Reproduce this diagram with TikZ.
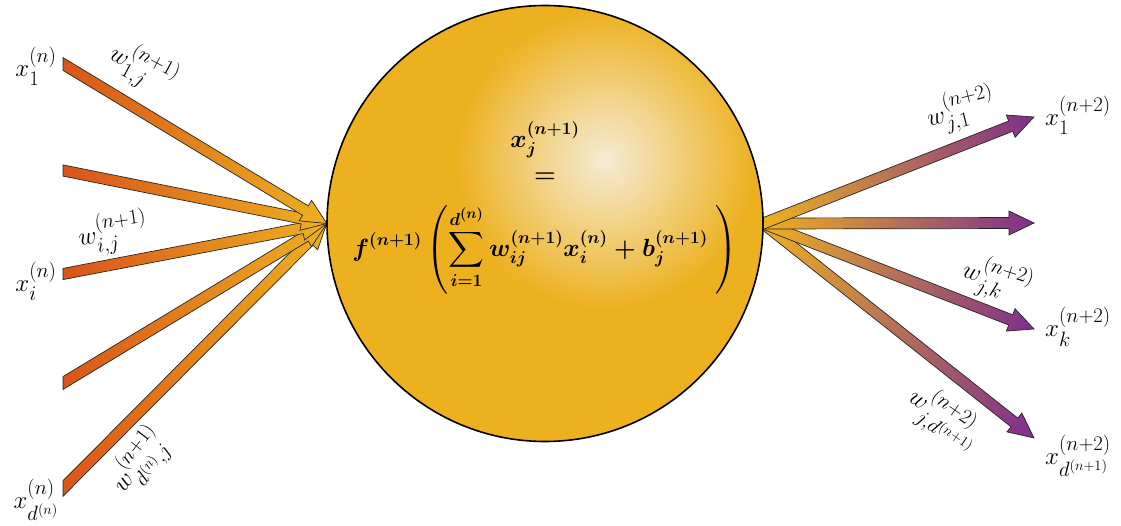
\documentclass[tikz,border=0pt]{standalone}
\usepackage{amsmath}
\usetikzlibrary{calc,backgrounds}
\DeclareMathSizes{26}{26}{20}{15}
\DeclareMathSizes{25}{25}{19}{14}
\definecolor{mred}{RGB}{217,83,25}
\definecolor{mgold}{RGB}{237,177,32}
\definecolor{mpurp}{RGB}{126,47,142}
\definecolor{mglow}{RGB}{245,236,214}
\newcommand\shw{5.5}
\newcommand\hw{12}
\newcommand\hl{25}
\newcommand\blockarrow[4]{%
  \path let \p1=(#1), \p2=(#2), \n1={atan2(\y2-\y1,\x2-\x1)}, \n2={veclen(\x2-\x1,\y2-\y1)} in \pgfextra{\xdef\arrang{\n1}\xdef\arrlen{\n2}};
  \pgfmathsetmacro\arrL{\arrlen}%
  \pgfmathsetmacro\arrT{\shw*tan(\arrang)}%
  \pgfmathsetmacro\arrTn{-\arrT}%
  \pgfmathsetmacro\arrB{\arrL-\hl}%
  \begin{scope}[transform canvas={shift={(#1)},rotate=\arrang}]
    \shade[blockarr, left color=#3, right color=#4]
      (\arrT pt,\shw pt) -- (\arrB pt,\shw pt) -- (\arrB pt,\hw pt) -- (\arrL pt,0pt)
      -- (\arrB pt,-\hw pt) -- (\arrB pt,-\shw pt) -- (\arrTn pt,-\shw pt) -- cycle;
  \end{scope}}
\tikzset{
  blockarr/.style={draw=black!85, line width=0.7pt, line join=miter},
  lbl/.style={font=\fontsize{26}{30}\selectfont, inner sep=0pt},
  formula/.style={font=\fontsize{25}{29}\selectfont\boldmath, inner sep=0pt},
  neuronstyle/.style={circle, fill=mgold, minimum size=436pt, inner sep=0pt},
  rimstyle/.style={circle, draw=black, line width=1.6pt, minimum size=436pt, inner sep=0pt}
}
\begin{document}
\begin{tikzpicture}[x=1pt,y=-1pt]
\useasboundingbox (0,0) rectangle (1121,526);
\node[neuronstyle] (neuron) at (545,223.5) {};
\begin{scope}
  \clip (neuron.center) circle (218pt);
  \shade[inner color=mglow, outer color=mgold] (605,160) circle (150pt);
\end{scope}
\node[rimstyle] (neuronrim) at (neuron.center) {};
% tails and tips
\coordinate (s1) at (63,64);
\coordinate (s2) at (63,170.5);
\coordinate (s3) at (63,274);
\coordinate (s4) at (63,383);
\coordinate (s5) at (63,488.5);
\coordinate (t1) at (1034,117);
\coordinate (t2) at (1034,223);
\coordinate (t3) at (1034,329);
\coordinate (t4) at (1034,438);
\begin{scope}[on background layer]
\blockarrow{s5}{neuron.west}{mred}{mgold}
\blockarrow{s4}{neuron.west}{mred}{mgold}
\blockarrow{s3}{neuron.west}{mred}{mgold}
\blockarrow{s2}{neuron.west}{mred}{mgold}
\blockarrow{s1}{neuron.west}{mred}{mgold}
\blockarrow{neuron.east}{t4}{mgold}{mpurp}
\blockarrow{neuron.east}{t3}{mgold}{mpurp}
\blockarrow{neuron.east}{t2}{mgold}{mpurp}
\blockarrow{neuron.east}{t1}{mgold}{mpurp}
\end{scope}
% formula
\node[formula] (fx) at (545,140) {$x_j^{(n+1)}$};
\node[formula] (feq) at (545,178) {$=$};
\node[formula] (ff) at (545,250) {$\displaystyle f^{(n+1)}\left(\sum_{i=1}^{d^{(n)}} w_{ij}^{(n+1)}x_i^{(n)} + b_j^{(n+1)}\;\right)$};
% input labels
\node[lbl] (lx1) at (36,66) {$x_1^{(n)}$};
\node[lbl] (lx2) at (36,281) {$x_i^{(n)}$};
\node[lbl] (lx3) at (36,500) {$x_{d^{(n)}}^{(n)}$};
% output labels
\node[lbl] (rx1) at (1078,115) {$x_1^{(n+2)}$};
\node[lbl] (rx2) at (1078,327) {$x_k^{(n+2)}$};
\node[lbl] (rx3) at (1078,456) {$x_{d^{(n+1)}}^{(n+2)}$};
% weight labels
\node[lbl, rotate=-28] (wl1) at (143,68) {$w_{1,j}^{(n+1)}$};
\node[lbl, rotate=8] (wl2) at (113,233) {$w_{i,j}^{(n+1)}$};
\node[lbl, rotate=52] (wl3) at (140,462) {$w_{d^{(n)},j}^{(n+1)}$};
\node[lbl, rotate=14] (wr1) at (961,110) {$w_{j,1}^{(n+2)}$};
\node[lbl, rotate=-18] (wr2) at (997,280) {$w_{j,k}^{(n+2)}$};
\node[lbl, rotate=-35] (wr3) at (944,418) {$w_{j,d^{(n+1)}}^{(n+2)}$};
\end{tikzpicture}
\end{document}
